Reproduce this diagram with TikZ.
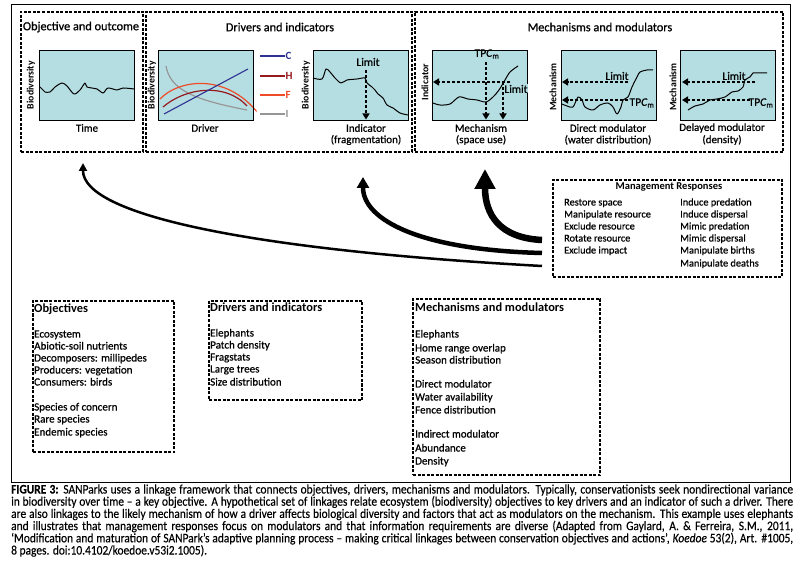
\documentclass[tikz,border=0pt]{standalone}
\usepackage{fontspec}
\setmainfont{Carlito}
\newfontfamily\capfont[FakeStretch=0.88,FakeBold=0.3]{Carlito}
\newfontfamily\semi[FakeBold=0.7]{Carlito}
\usetikzlibrary{arrows.meta}
\definecolor{plotbg}{RGB}{181,222,226}
\definecolor{cblue}{RGB}{46,49,146}
\definecolor{hred}{RGB}{150,25,30}
\definecolor{forange}{RGB}{240,75,40}
\definecolor{igray}{RGB}{150,150,150}
\begin{document}
\begin{tikzpicture}[x=1pt,y=-1pt,
  dbox/.style={draw, line width=1.4pt, dash pattern=on 3pt off 1.5pt, inner sep=0, outer sep=0, anchor=north west},
  pbox/.style={draw, line width=0.9pt, fill=plotbg, inner sep=0, outer sep=0, anchor=north west, minimum width=95pt, minimum height=70pt},
  curve/.style={line width=1pt, line join=round},
  darr/.style={line width=1.6pt, dash pattern=on 3pt off 2pt, -{Triangle[length=6pt,width=7pt]}},
  ttl/.style={font=\semi\fontsize{12.3}{14}\selectfont, inner sep=0},
  xl/.style={font=\semi\fontsize{11}{12}\selectfont, inner sep=0},
  yl/.style={font=\bfseries\fontsize{9.8}{11}\selectfont, inner sep=0, rotate=90},
  pl/.style={font=\semi\fontsize{11.5}{12}\selectfont, inner sep=0},
  lg/.style={font=\bfseries\fontsize{11}{12}\selectfont, inner sep=0, anchor=west},
  item/.style={anchor=west, inner sep=0, text height=7pt, text depth=2pt, font=\semi\fontsize{11}{13}\selectfont},
  mitem/.style={item, font=\semi\fontsize{10.3}{12}\selectfont},
  head/.style={item, font=\bfseries\fontsize{12.4}{14}\selectfont},
  captext/.style={anchor=west, inner sep=0, text height=7pt, text depth=2pt, font=\capfont\fontsize{13}{14}\selectfont}
]
\fill[white] (0,0) rectangle (804,572);
\useasboundingbox (0,0) rectangle (804,572);
% outer frame
\node[draw, line width=1pt, inner sep=0, outer sep=0, anchor=north west, minimum width=779pt, minimum height=477pt] (frame) at (11,5) {};

% ---------- top boxes ----------
\node[dbox, minimum width=122pt, minimum height=140pt] (objtop) at (21,12) {};
\node[dbox, minimum width=266pt, minimum height=140pt] (drvtop) at (146,12) {};
\node[dbox, minimum width=368pt, minimum height=140pt] (mectop) at (415,12) {};

\node[ttl] (t1) at (81,27) {Objective and outcome};
\node[ttl] (t2) at (280,27) {Drivers and indicators};
\node[ttl] (t3) at (600,27) {Mechanisms and modulators};

% plot 1
\node[pbox] (p1) at (39,50) {};
\draw[curve] plot[smooth, tension=0.5] coordinates {(40,87) (43,90) (45,92) (50,92) (55,87) (62,83) (67,86) (74,94) (80,90) (85,83) (87,87) (97,89) (103,93) (108,88) (117,90) (123,88) (134,89)};
\node[yl] (y1) at (31,85) {Biodiversity};
\node[xl] (x1) at (87,128) {Time};

% plot 2
\node[pbox] (p2) at (158,50) {};
\begin{scope}
\clip (158,50) rectangle (256.5,120);
\draw[igray, line width=1.2pt] (166,66) .. controls (170,90) and (195,100) .. (247,110);
\draw[hred, line width=1.2pt] (163,107) .. controls (185,88) and (225,82) .. (247,106);
\draw[forange, line width=1.2pt] (160,99) .. controls (178,80) and (225,72) .. (258,113);
\draw[cblue, line width=1.1pt] (164,114) -- (248,69);
\end{scope}
\draw[black, line width=0.9pt] (158,50) rectangle (253,120);
\node[yl] (y2) at (152,85) {Biodiversity};
\node[xl] (x2) at (205,128) {Driver};
\draw[cblue, line width=1.4pt] (260,56) -- (285,56) node[lg] (lc) {C};
\draw[hred, line width=1.4pt] (260,76) -- (285,76) node[lg] (lh) {H};
\draw[forange, line width=1.4pt] (260,95) -- (285,95) node[lg] (lf) {F};
\draw[igray, line width=1.4pt] (260,114) -- (285,114) node[lg] (li) {I};

% plot 3
\node[pbox] (p3) at (313,50) {};
\draw[curve] plot[smooth, tension=0.5] coordinates {(313,78) (322,79) (326,69) (330,72) (335,78) (341,83) (347,80) (357,79) (365,78) (367,83) (372,87) (375,90) (378,94) (383,98) (387,105) (393,108) (400,113) (408,115)};
\node[pl] (lim3) at (368,62) {Limit};
\coordinate (d3a) at (366,70);
\coordinate (d3b) at (366,119.5);
\draw[darr] (d3a) -- (d3b);
\node[yl] (y3) at (306,85) {Biodiversity};
\node[xl] (x3) at (366,128) {Indicator};
\node[xl] (x3b) at (366,140) {(fragmentation)};

% plot 4
\node[pbox] (p4) at (432,50) {};
\draw[curve] plot[smooth, tension=0.5] coordinates {(433,103) (440,105) (450,104) (459,97) (468,99) (477,100) (486,102) (493,97) (499,90) (505,80) (510,72) (518,66)};
\coordinate (h4a) at (510,82); \coordinate (h4b) at (433,82);
\draw[darr] (h4a) -- (h4b);
\node[pl] (tpc4) at (487,54) {TP\textit{C}\textsubscript{m}};
\coordinate (v4a) at (486,62); \coordinate (v4b) at (486,119.5);
\draw[darr] (v4a) -- (v4b);
\coordinate (w4a) at (503,82); \coordinate (w4b) at (503,119.5);
\draw[darr] (w4a) -- (w4b);
\node[pl, fill=plotbg, inner sep=0.5pt] (lim4) at (516,89) {Limit};
\node[yl] (y4) at (425,82) {Indicator};
\node[xl] (x4) at (481,128) {Mechanism};
\node[xl] (x4b) at (481,140) {(space use)};

% plot 5
\node[pbox] (p5) at (561,50) {};
\draw[curve] plot[smooth, tension=0.5] coordinates {(562,104) (567,106) (573,107) (578,97) (582,100) (585,107) (593,110) (600,105) (608,103) (613,107) (617,114) (621,107) (623,100) (628,97) (632,87) (637,77) (640,72) (647,70) (653,70)};
\coordinate (u5a) at (628,82); \coordinate (u5b) at (562,82);
\draw[darr] (u5a) -- (u5b);
\coordinate (l5a) at (628,100); \coordinate (l5b) at (562,100);
\draw[darr] (l5a) -- (l5b);
\node[pl] (lim5) at (617,76) {Limit};
\node[pl] (tpc5) at (642,103) {TP\textit{C}\textsubscript{m}};
\node[yl] (y5) at (553,87) {Mechanism};
\node[xl] (x5) at (608,128) {Direct modulator};
\node[xl] (x5b) at (608,140) {(water distribution)};

% plot 6
\node[pbox] (p6) at (680,50) {};
\draw[curve] plot[smooth, tension=0.5] coordinates {(688,110) (695,106) (703,104) (710,100) (717,99) (725,97) (732,92) (738,91) (743,87) (745,80) (750,77) (753,73) (757,73) (767,73)};
\coordinate (u6a) at (755,82); \coordinate (u6b) at (682,82);
\draw[darr] (u6a) -- (u6b);
\coordinate (l6a) at (750,100); \coordinate (l6b) at (682,100);
\draw[darr] (l6a) -- (l6b);
\node[pl] (lim6) at (734,76) {Limit};
\node[pl] (tpc6) at (761,103) {TP\textit{C}\textsubscript{m}};
\node[yl] (y6) at (673,87) {Mechanism};
\node[xl] (x6) at (722,128) {Delayed modulator};
\node[xl] (x6b) at (722,140) {(density)};

% ---------- management responses ----------
\node[dbox, minimum width=229pt, minimum height=97pt] (mgmt) at (553,180) {};
\node[font=\bfseries\fontsize{10.5}{12}\selectfont, inner sep=0] (mgt) at (669,187) {Management Responses};
\foreach \t/\y [count=\i] in {Restore space/203, Manipulate resource/215, Exclude resource/227, Rotate resource/239, Exclude impact/251}
  \node[mitem] (ml\i) at (564,\y) {\t};
\foreach \t/\y [count=\i] in {Induce predation/203, Induce dispersal/215, Mimic predation/227, Mimic dispersal/239, Manipulate births/251, Manipulate deaths/264}
  \node[mitem] (mr\i) at (680,\y) {\t};

% arrows
\coordinate (a1s) at (542,266); \coordinate (a1e) at (83,163);
\coordinate (a2s) at (542,253); \coordinate (a2e) at (363,177);
\coordinate (a3s) at (542,240); \coordinate (a3e) at (485,169);
\draw[line width=2.5pt, -{Triangle[length=8pt,width=8pt]}] (a1s) .. controls (250,250) and (83,215) .. (a1e);
\draw[line width=4.5pt, -{Triangle[length=11pt,width=12pt]}] (a2s) .. controls (420,250) and (363,220) .. (a2e);
\draw[line width=6.5pt, -{Triangle[length=20pt,width=20pt]}] (a3s) .. controls (500,238) and (485,215) .. (a3e);

% ---------- lower boxes ----------
\node[dbox, minimum width=141pt, minimum height=151pt] (objlow) at (33,301) {};
\node[head] (oh) at (34,310) {Objectives};
\foreach \t/\y [count=\i] in {Ecosystem/335, Abiotic-soil nutrients/347, Decomposers: millipedes/359, Producers: vegetation/371, Consumers: birds/383, Species of concern/408, Rare species/420, Endemic species/433}
  \node[item] (o\i) at (34,\y) {\t};

\node[dbox, minimum width=153pt, minimum height=99pt] (drvlow) at (209,301) {};
\node[head] (dh) at (210,309) {Drivers and indicators};
\foreach \t/\y [count=\i] in {Elephants/334, Patch density/346, Fragstats/358, Large trees/370, Size distribution/383}
  \node[item] (d\i) at (210,\y) {\t};

\node[dbox, minimum width=187pt, minimum height=176pt] (meclow) at (413,299) {};
\node[head] (mh) at (415,309) {Mechanisms and modulators};
\foreach \t/\y [count=\i] in {Elephants/335, Home range overlap/349, Season distribution/361, Direct modulator/385, Water availability/398, Fence distribution/411, Indirect modulator/435, Abundance/449, Density/462}
  \node[item] (m\i) at (415,\y) {\t};

% ---------- caption ----------
\node[captext] (c1) at (11,491) {\makebox[782pt][s]{\textbf{FIGURE 3:} SANParks uses a linkage framework that connects objectives, drivers, mechanisms and modulators. Typically, conservationists seek nondirectional variance}};
\node[captext] (c2) at (11,503.2) {\makebox[782pt][s]{in biodiversity over time – a key objective. A hypothetical set of linkages relate ecosystem (biodiversity) objectives to key drivers and an indicator of such a driver. There}};
\node[captext] (c3) at (11,515.4) {\makebox[782pt][s]{are also linkages to the likely mechanism of how a driver affects biological diversity and factors that act as modulators on the mechanism. This example uses elephants}};
\node[captext] (c4) at (11,527.6) {\makebox[782pt][s]{and illustrates that management responses focus on modulators and that information requirements are diverse (Adapted from Gaylard, A. \& Ferreira, S.M., 2011,}};
\node[captext] (c5) at (11,539.8) {\makebox[782pt][s]{‘Modification and maturation of SANPark’s adaptive planning process – making critical linkages between conservation objectives and actions’, \textit{Koedoe} 53(2), Art. \#1005,}};
\node[captext] (c6) at (11,552) {8 pages. doi:10.4102/koedoe.v53i2.1005).};
\end{tikzpicture}
\end{document}
